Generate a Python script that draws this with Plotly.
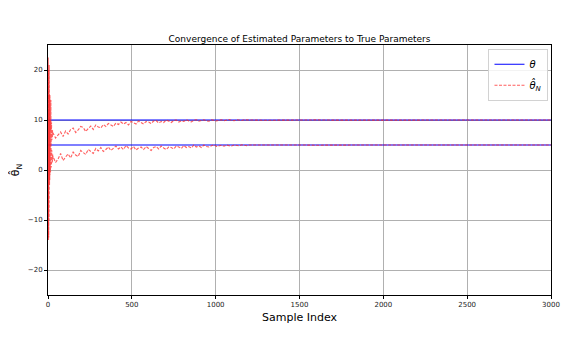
import plotly.graph_objects as go

# sample index of the plotted estimates
sample_idx = list(range(0, 30)) + list(range(30, 1201, 15)) + list(range(1300, 3001, 100))

true_theta = [10, 5]
x_span = [0, 3000]

theta1_hat = [
    0, 22.5, -9, 19, -13.5, 16, -4, 21, 2, 13, -2, 15, 6, 11, 3, 12, 8, 14, 5, 10,
    7, 9.5, 6, 8.5, 7.5, 9, 6.5, 8, 7, 7.8,
    7.4, 6.4, 7.1, 7.6, 6.7, 7.8, 7.2, 8.1, 8.4, 7.5, 8.0, 8.7, 8.5, 7.7, 8.3, 8.8,
    8.1, 9.0, 8.6, 8.4, 9.1, 8.7, 9.3, 9.0, 8.7, 9.4, 9.1, 9.6, 9.2, 9.5, 9.0, 9.7,
    9.4, 9.2, 9.8, 9.5, 9.2, 9.7, 9.6, 9.3, 9.8, 9.9, 9.4, 9.7, 9.5, 10.0, 9.7, 9.5,
    9.9, 10.0, 9.6, 9.8, 9.7, 10.05, 9.8, 9.6, 9.95, 10.05, 9.75, 9.9, 10.05, 9.8, 9.75, 10.05,
    9.9, 9.8,
    9.95, 10.05, 9.85, 9.9, 10.1, 9.95, 9.85, 10.05, 9.95, 9.9, 10.05, 9.95, 10.0,
    9.95, 10.0, 9.96, 10.02, 9.98, 10.01, 9.97, 10.0, 10.02, 9.98, 10.0, 10.01, 9.99,
    10.0, 10.01, 9.99, 10.0, 10.0,
]

theta2_hat = [
    0, -12, 20, -14, 12, -10, 9, -6, 15, -3, 8, -1, 10, 1, 6, -0.5, 4, 2, 5, 0.5,
    3.5, 1.5, 4, 2, 3, 1.5, 2.8, 2, 3.2, 2.2,
    2.7, 1.5, 2.2, 3.3, 1.9, 2.6, 3.2, 2.4, 3.6, 3.0, 2.7, 3.9, 3.4, 3.1, 4.1, 3.6,
    3.3, 4.3, 3.8, 4.5, 3.7, 4.1, 4.6, 3.9, 4.4, 4.8, 4.2, 4.6, 4.1, 4.9, 4.4, 4.2,
    4.7, 4.0, 4.4, 4.6, 4.1, 4.7, 4.3, 3.9, 4.5, 4.7, 4.2, 4.8, 4.4, 4.1, 4.6, 4.5,
    4.2, 4.8, 4.6, 4.3, 4.9, 4.5, 4.7, 4.4, 5.0, 4.6, 4.8, 4.5, 5.0, 4.7, 4.6, 4.9,
    5.05, 4.7,
    4.8, 4.95, 4.75, 5.0, 4.85, 4.8, 5.0, 4.9, 4.85, 5.05, 4.9, 4.85, 5.0,
    4.95, 4.97, 5.0, 4.96, 5.02, 4.98, 5.0, 5.01, 4.99, 5.0, 5.01, 4.99, 5.0,
    5.0, 5.0, 5.01, 5.0, 5.0,
]

font = "DejaVu Sans"
fig = go.Figure()

for i, th in enumerate(true_theta):
    fig.add_trace(go.Scatter(x=x_span, y=[th, th], mode="lines",
                             line=dict(color="rgb(0,0,255)", width=1.2),
                             name="<i>θ</i>", legendgroup="true",
                             showlegend=(i == 0)))

for i, est in enumerate([theta1_hat, theta2_hat]):
    fig.add_trace(go.Scatter(x=sample_idx, y=est, mode="lines",
                             line=dict(color="rgba(255,40,40,0.75)", width=1.1,
                                       dash="3px,1.5px"),
                             name="<i>θ̂</i><sub><i>N</i></sub>",
                             legendgroup="est", showlegend=(i == 0)))

axis_common = dict(showline=True, linecolor="black", linewidth=1, mirror=True,
                   showgrid=True, gridcolor="rgb(176,176,176)", gridwidth=1,
                   ticks="outside", ticklen=3, tickcolor="black",
                   tickfont=dict(family=font, size=7, color="#222"),
                   zeroline=False, automargin=False)

# the page body adds an 8px offset, so the figure is sized to fit inside it
fig.update_layout(
    width=575, height=339,
    margin=dict(l=40, r=32, t=37, b=52),
    paper_bgcolor="white", plot_bgcolor="white",
    title=dict(text="Convergence of Estimated Parameters to True Parameters",
               x=0.5, xanchor="center", y=1, yanchor="bottom",
               xref="paper", yref="paper", pad=dict(b=3), automargin=False,
               font=dict(family=font, size=9, color="black")),
    xaxis=dict(range=[0, 3000], tickvals=[0, 500, 1000, 1500, 2000, 2500, 3000],
               title=dict(text="Sample Index", standoff=4,
                          font=dict(family=font, size=11, color="black")),
               **axis_common),
    yaxis=dict(range=[-25, 25], tickvals=[-20, -10, 0, 10, 20],
               title=dict(text="θ̂<sub>N</sub>", standoff=5,
                          font=dict(family=font, size=11, color="black")),
               **axis_common),
    legend=dict(x=0.995, y=0.985, xanchor="right", yanchor="top",
                bgcolor="rgba(255,255,255,0.85)", bordercolor="rgb(210,210,210)",
                borderwidth=1, font=dict(family=font, size=10, color="black"),
                tracegroupgap=2, itemwidth=30),
    showlegend=True,
)

fig.write_html("out.html")
